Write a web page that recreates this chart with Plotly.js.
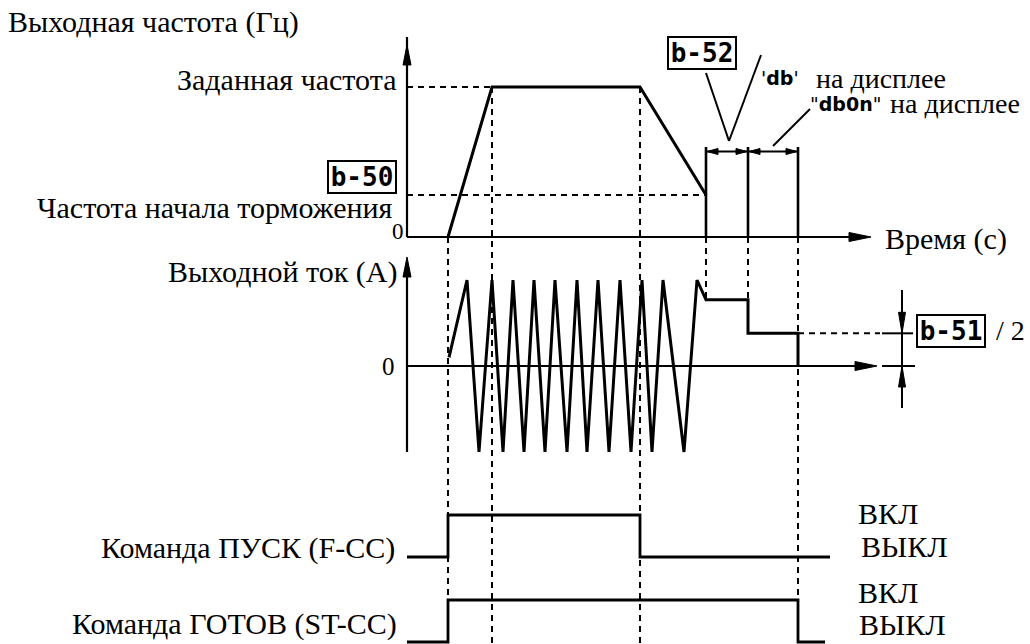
<!DOCTYPE html>
<html><head><meta charset="utf-8">
<script src="https://cdn.plot.ly/plotly-3.0.1.min.js"></script>
<style>html,body{margin:0;padding:0;background:#fff}</style>
</head><body><div id="chart" style="width:1030px;height:644px"></div>
<script>
// ---------------- DATA (diagram time units, 0 = axes origin) ----------------
const tAccelStart = 41, tAccelEnd = 85, tDecelStart = 233;
const tBrakeStart = 299, tDbOnStart = 341, tBrakeEnd = 391;

// Output frequency (% of set frequency)
const freqTime  = [41, 85, 233, 299];
const freqValue = [0, 100, 100, 28];
const setFreqLevel = 100, brakeFreqLevel = 28;

// Output current (% of peak)
const curTime  = [42,60,72,85,96,106,117,127,138,148,160,170,180,191,202,213,224,235,245,256,277,290,299,341,341,391,391];
const curValue = [10,100,-100,100,-100,100,-100,100,-100,100,-100,100,-100,100,-100,100,-100,100,-100,100,-100,100,77,77,38,38,0];
const dcLevel1 = 77, dcLevel2 = 38;

// Run command F-CC (1 = ON)
const runTime  = [0, 41, 41, 233, 233, 423];
const runValue = [0, 0, 1, 1, 0, 0];
// Ready command ST-CC (1 = ON)
const readyTime  = [0, 41, 41, 391, 391, 418];
const readyValue = [0, 0, 1, 1, 0, 0];

// Texts
const titleFreq = 'Выходная частота (Гц)';
const freqTickLabels = ['Заданная частота', 'Частота начала торможения', '0'];
const timeLabel = 'Время (с)';
const titleCur = 'Выходной ток (A)';
const curZeroLabel = '0';
const signalLabels = ['Команда ПУСК (F-CC)', 'Команда ГОТОВ (ST-CC)'];
const stateLabels = ['ВКЛ', 'ВЫКЛ'];
const paramCodes = ['b-50', 'b-51', 'b-52'];
const dispLabels = ["'<b>db</b>'", '"<b>db0n</b>"'];
const dispText = 'на дисплее';

// ---------------- LAYOUT GEOMETRY ----------------
const W = 1030, H = 644, X0 = 407;
const F = {zero: 237, k: 1.5};   // frequency panel
const I = {zero: 366, k: 0.86};  // current panel
const R = {zero: 557, k: 42};    // run signal
const S = {zero: 642, k: 42};    // ready signal
const rng = p => [(p.zero - H) / p.k, p.zero / p.k];
const py = (p, v) => p.zero - p.k * v;          // value -> pixel
const inF = px => (F.zero - px) / F.k;           // pixel -> freq units
const px = t => X0 + t;
const PX = x => x / W, PY = y => 1 - y / H;

const serif = 'Liberation Serif, Times New Roman, serif';
const FS = 30;
const black = '#000';

const traces = [
  {x: freqTime, y: freqValue, yaxis: 'y', mode: 'lines', line: {color: black, width: 3}, hoverinfo: 'skip'},
  {x: curTime, y: curValue, yaxis: 'y2', mode: 'lines', line: {color: black, width: 3}, hoverinfo: 'skip'},
  {x: runTime, y: runValue, yaxis: 'y3', mode: 'lines', line: {color: black, width: 2.8}, hoverinfo: 'skip'},
  {x: readyTime, y: readyValue, yaxis: 'y4', mode: 'lines', line: {color: black, width: 2.8}, hoverinfo: 'skip'}
];

const shapes = [];
const dash = '6px,5px';
function L(x0, y0, x1, y1, yref, w, d) {
  shapes.push({type: 'line', xref: 'x', yref: yref, x0, y0, x1, y1,
    line: {color: black, width: w || 2, dash: d || 'solid'}, layer: 'above'});
}
function Lp(x0, y0, x1, y1, w) {
  shapes.push({type: 'line', xref: 'paper', yref: 'paper', x0: PX(x0), y0: PY(y0), x1: PX(x1), y1: PY(y1),
    line: {color: black, width: w || 2}});
}
function head(x, y, dir, len, hw) {
  let pts;
  if (dir === 'up') pts = [[x, y], [x - hw, y + len], [x + hw, y + len]];
  else if (dir === 'down') pts = [[x, y], [x - hw, y - len], [x + hw, y - len]];
  else if (dir === 'right') pts = [[x, y], [x - len, y - hw], [x - len, y + hw]];
  else pts = [[x, y], [x + len, y - hw], [x + len, y + hw]];
  const path = 'M' + pts.map(p => PX(p[0]) + ',' + PY(p[1])).join('L') + 'Z';
  shapes.push({type: 'path', xref: 'paper', yref: 'paper', path, fillcolor: black, line: {color: black, width: 1}});
}

// Frequency axes
const fTop = inF(45), fAxisEnd = 464;
L(0, 0, 0, fTop + 8 / F.k, 'y', 2.2);
head(px(0), 45, 'up', 20, 4);
L(0, 0, fAxisEnd - 10, 0, 'y', 2.2);
head(px(fAxisEnd), F.zero, 'right', 22, 4.5);
// Current axes
const iTop = (I.zero - 257) / I.k, iAxisEnd = 470;
L(0, -100, 0, iTop - 10, 'y2', 2.2);
head(px(0), 257, 'up', 20, 4);
L(0, 0, iAxisEnd - 10, 0, 'y2', 2.2);
head(px(iAxisEnd), I.zero, 'right', 22, 4.5);

// Dashed guides
const bottomF = rng(F)[0];
L(0, setFreqLevel, tAccelEnd, setFreqLevel, 'y', 2, dash);
L(0, brakeFreqLevel, tBrakeStart, brakeFreqLevel, 'y', 2, dash);
L(tAccelStart, 0, tAccelStart, bottomF, 'y', 2, dash);
L(tAccelEnd, setFreqLevel, tAccelEnd, bottomF, 'y', 2, dash);
L(tDecelStart, setFreqLevel, tDecelStart, bottomF, 'y', 2, dash);
L(tBrakeStart, 0, tBrakeStart, inF(py(I, dcLevel1)), 'y', 2, dash);
L(tDbOnStart, 0, tDbOnStart, inF(py(I, dcLevel1)), 'y', 2, dash);
L(tBrakeEnd, 0, tBrakeEnd, bottomF, 'y', 2, dash);
const dimX = 495;
L(tBrakeEnd, dcLevel2, 473, dcLevel2, 'y2', 2, dash);

// DC braking bracket (frequency panel)
const bracketTop = 60, bracketLine = 57;
[tBrakeStart, tDbOnStart, tBrakeEnd].forEach(t => L(t, 0, t, bracketTop, 'y', 2.6));
L(tBrakeStart, bracketLine, tBrakeEnd, bracketLine, 'y', 2);
const yb = py(F, bracketLine);
head(px(tBrakeStart) + 1, yb, 'left', 11, 3);
head(px(tDbOnStart) - 1, yb, 'right', 11, 3);
head(px(tDbOnStart) + 1, yb, 'left', 11, 3);
head(px(tBrakeEnd) - 1, yb, 'right', 11, 3);

// b-51 / 2 dimension marker
L(dimX, (I.zero - 290) / I.k, dimX, (I.zero - 408) / I.k, 'y2', 2);
head(px(dimX), py(I, dcLevel2), 'down', 21, 3.5);
head(px(dimX), py(I, 0), 'up', 21, 3.5);
L(475, dcLevel2, 506, dcLevel2, 'y2', 2);
L(475, 0, 508, 0, 'y2', 2);

// Callout lines
Lp(706, 73, 729, 141, 2);
Lp(729, 141, 761, 55, 2);
Lp(773, 146, 810, 109, 2);

// ---------------- ANNOTATIONS ----------------
const ann = [];
function T(text, x, y, xa, size, fam) {
  ann.push({text, xref: 'paper', yref: 'paper', x: PX(x), y: PY(y), xanchor: xa || 'left', yanchor: 'middle',
    showarrow: false, borderpad: 0, font: {family: fam || serif, size: size || FS, color: black}});
}
T(titleFreq, 7, 22, 'left');
T(freqTickLabels[0], 397, 79, 'right');
T(freqTickLabels[1], 394, 208, 'right');
T(freqTickLabels[2], 405, 231, 'right', 23);
T(timeLabel, 884, 239, 'left');
T(titleCur, 398, 272, 'right');
T(curZeroLabel, 396, 366, 'right', 25);
T(dispLabels[0], 760, 78, 'left', 19, 'DejaVu Sans, sans-serif');
T(dispText, 815, 78, 'left', 28);
T(dispLabels[1], 809, 104, 'left', 19, 'DejaVu Sans, sans-serif');
T(dispText, 889, 104, 'left', 28);
T('/ 2', 995, 330, 'left', 28);
T(signalLabels[0], 396, 548, 'right');
T(signalLabels[1], 398, 624, 'right');
T(stateLabels[0], 857, 513, 'left');
T(stateLabels[1], 860, 546, 'left');
T(stateLabels[0], 857, 592, 'left');
T(stateLabels[1], 858, 624, 'left');

function box(text, cx, cy) {
  ann.push({text: '<b>' + text + '</b>', xref: 'paper', yref: 'paper', x: PX(cx), y: PY(cy),
    xanchor: 'center', yanchor: 'middle', showarrow: false, width: 64, height: 28,
    bordercolor: black, borderwidth: 2, borderpad: 1, bgcolor: '#fff',
    font: {family: 'DejaVu Sans Mono, monospace', size: 26, color: black}});
}
box(paramCodes[0], 362, 177);
box(paramCodes[2], 702, 53);
box(paramCodes[1], 951, 331);

const hidden = {visible: false, fixedrange: true};
const layout = {
  width: W, height: H, margin: {l: 0, r: 0, t: 0, b: 0, pad: 0},
  paper_bgcolor: '#fff', plot_bgcolor: '#fff', showlegend: false,
  xaxis: Object.assign({range: [-X0, W - X0]}, hidden),
  yaxis: Object.assign({range: rng(F)}, hidden),
  yaxis2: Object.assign({range: rng(I), overlaying: 'y'}, hidden),
  yaxis3: Object.assign({range: rng(R), overlaying: 'y'}, hidden),
  yaxis4: Object.assign({range: rng(S), overlaying: 'y'}, hidden),
  shapes, annotations: ann
};
Plotly.newPlot('chart', traces, layout, {staticPlot: true, displayModeBar: false});
</script></body></html>
